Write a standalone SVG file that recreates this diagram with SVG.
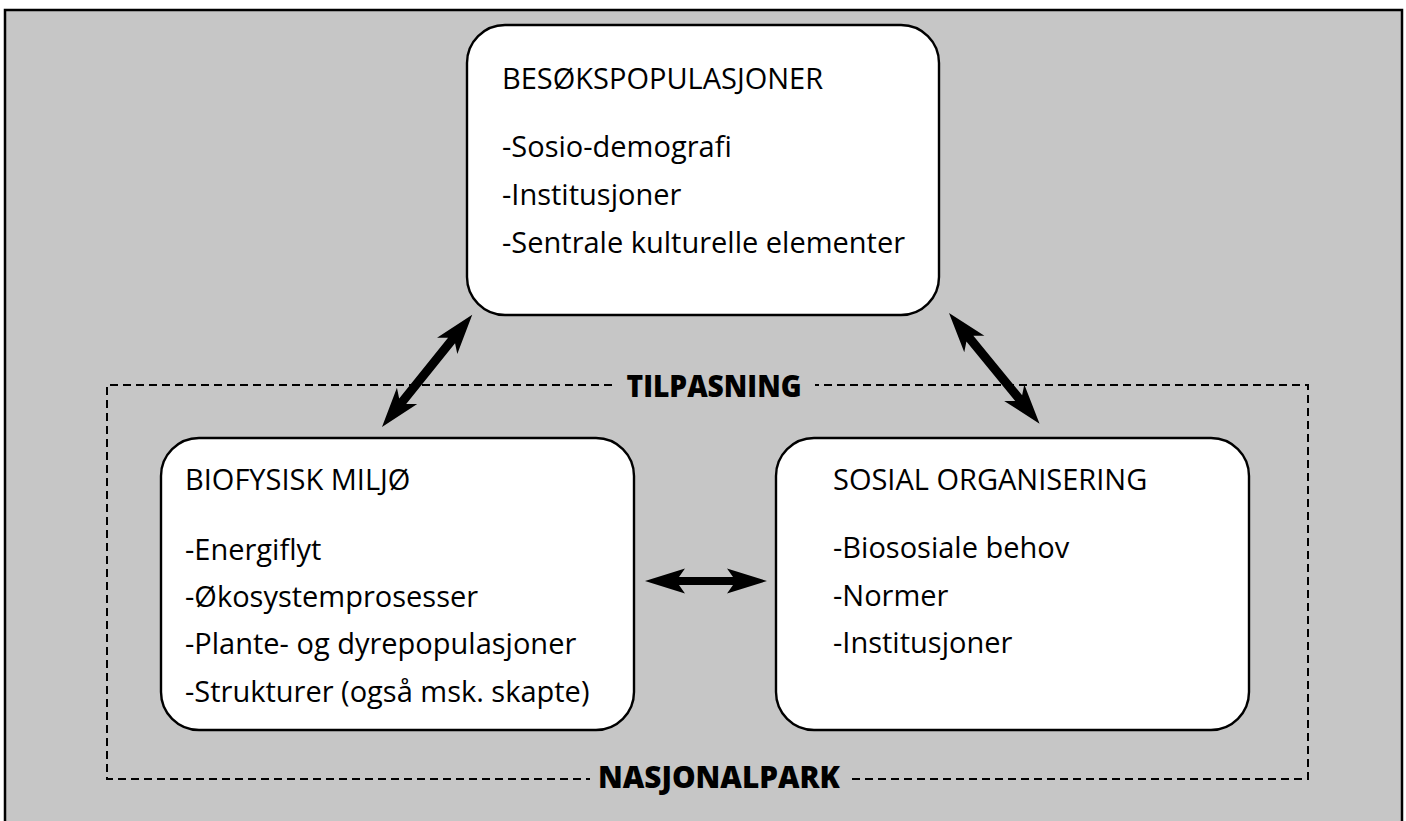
<svg xmlns="http://www.w3.org/2000/svg" width="1406" height="821" viewBox="0 0 1406 821">
<style>
.box{fill:#fff;stroke:#000;stroke-width:2.4}
.t{font-family:"Open Sans","Noto Sans",sans-serif;font-size:29px;fill:#000}
.b{font-family:"Open Sans","Noto Sans",sans-serif;font-size:30px;font-weight:800;fill:#000}
.dash{fill:none;stroke:#000;stroke-width:2;stroke-dasharray:8 5}
.arr{fill:#000}
</style>
<rect x="0" y="0" width="1406" height="821" fill="#fff"/>
<rect x="5" y="10" width="1397" height="830" fill="#c6c6c6" stroke="#000" stroke-width="2.5"/>
<g id="nasjonalpark">
<path class="dash" d="M612,385 H107 V779 H590"/>
<path class="dash" d="M852,779 H1308 V385 H815"/>
<text class="b" x="719" y="788" text-anchor="middle" textLength="242" lengthAdjust="spacingAndGlyphs">NASJONALPARK</text>
</g>
<g id="tilpasning">
<text class="b" x="714" y="397" text-anchor="middle" textLength="175" lengthAdjust="spacingAndGlyphs">TILPASNING</text>
</g>
<g id="besokspopulasjoner">
<rect class="box" x="467" y="25" width="472" height="290" rx="38"/>
<text class="t" x="502" y="89">BESØKSPOPULASJONER</text>
<text class="t" x="502" y="157">-Sosio-demografi</text>
<text class="t" x="502" y="205">-Institusjoner</text>
<text class="t" x="502" y="253">-Sentrale kulturelle elementer</text>
</g>
<g id="biofysisk">
<rect class="box" x="161" y="438" width="473" height="292" rx="38"/>
<text class="t" x="185" y="490">BIOFYSISK MILJØ</text>
<text class="t" x="185" y="560">-Energiflyt</text>
<text class="t" x="185" y="607">-Økosystemprosesser</text>
<text class="t" x="185" y="654">-Plante- og dyrepopulasjoner</text>
<text class="t" x="185" y="702">-Strukturer (også msk. skapte)</text>
</g>
<g id="sosial">
<rect class="box" x="776" y="438" width="473" height="292" rx="38"/>
<text class="t" x="833" y="490">SOSIAL ORGANISERING</text>
<text class="t" x="833" y="558">-Biososiale behov</text>
<text class="t" x="833" y="606">-Normer</text>
<text class="t" x="833" y="653">-Institusjoner</text>
</g>
<g id="connectors">
<polygon class="arr" transform="translate(645,581)" points="0,0 40,-12.5 34,-4 88,-4 82,-12.5 122,0 82,12.5 88,4 34,4 40,12.5"/>
<polygon class="arr" transform="translate(382,427) rotate(-51.2)" points="0,0 40,-13 33,-4.5 111,-4.5 104,-13 144,0 104,13 111,4.5 33,4.5 40,13"/>
<polygon class="arr" transform="translate(949,313) rotate(50.7)" points="0,0 40,-13 33,-4.5 110,-4.5 103,-13 143,0 103,13 110,4.5 33,4.5 40,13"/>
</g>
</svg>
